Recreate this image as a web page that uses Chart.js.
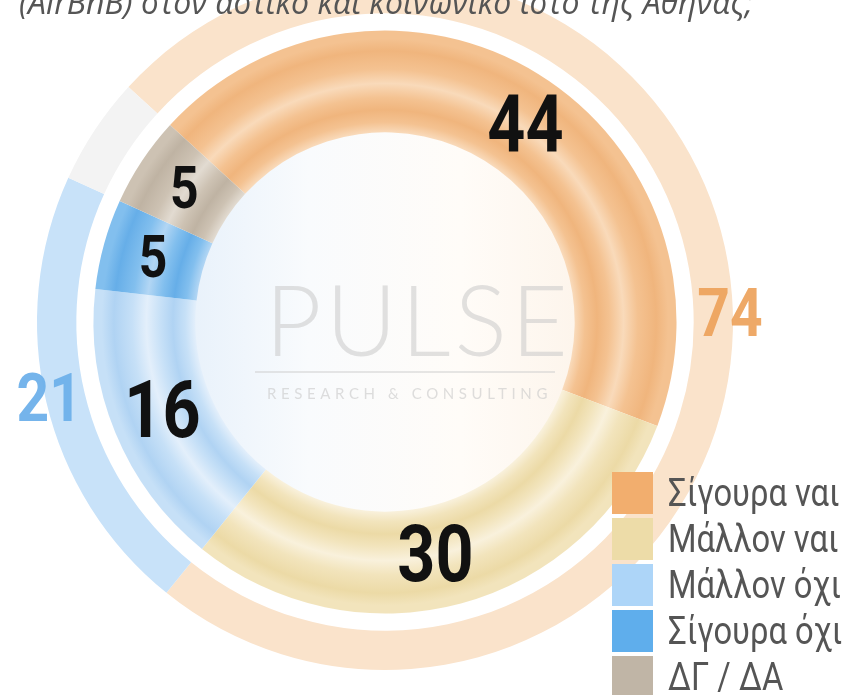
<!DOCTYPE html>
<html>
<head>
<meta charset="utf-8">
<script src="https://cdn.jsdelivr.net/npm/chart.js@4.4.1/dist/chart.umd.min.js"></script>
<style>
  html, body { margin: 0; padding: 0; background: #ffffff; }
  #wrap { position: relative; width: 844px; height: 695px; overflow: hidden; background: #ffffff; }
  #chart { position: absolute; left: 0; top: -30px; }
  #title { position: absolute; left: 19px; top: -14px; font-family: "Open Sans", sans-serif; font-style: italic;
           font-size: 32px; line-height: 31px; color: #555555; white-space: nowrap; }
  #wm { position: absolute; left: 255px; top: 268px; width: 320px; pointer-events: none; }
  #wm .big { font-family: Lato, "Open Sans", sans-serif; font-weight: 300; font-size: 98px; line-height: 100px;
             color: rgba(200,200,200,0.55); letter-spacing: 4px; margin-left: 10px; }
  #wm .rule { position: absolute; left: 0; top: 103px; width: 300px; height: 2px; background: rgba(205,205,205,0.5); }
  #wm .small { position: absolute; left: 12px; top: 116px; font-family: Lato, sans-serif; font-size: 15px;
               letter-spacing: 4.6px; color: rgba(200,200,200,0.6); white-space: nowrap; }
  #legend { position: absolute; left: 612px; top: 472px; }
  #legend .row { position: relative; height: 46px; }
  #legend .sw { position: absolute; left: 0; top: 0; width: 41px; height: 42px; }
  #legend .tx { position: absolute; left: 56px; top: -2px; font-family: Roboto, sans-serif; font-size: 38px;
                line-height: 46px; color: #555555; white-space: nowrap; transform: scaleX(0.86); transform-origin: left center; }
</style>
</head>
<body>
<div id="wrap">
  <canvas id="chart" width="844" height="725"></canvas>
  <div id="wm"><div class="big">PULSE</div><div class="rule"></div><div class="small">RESEARCH &amp; CONSULTING</div></div>
  <div id="title"></div>
  <div id="legend"></div>
</div>
<script>
// ---- data ----
const titleText = '(AirBnB) στον αστικό και κοινωνικό ιστό της Αθήνας;';
const categories = ['Σίγουρα ναι', 'Μάλλον ναι', 'Μάλλον όχι', 'Σίγουρα όχι', 'ΔΓ / ΔΑ'];
const detailValues = [44, 30, 16, 5, 5];
const summaryLabels = ['Ναι', 'Όχι', 'ΔΓ / ΔΑ'];
const summaryValues = [74, 21, 5];

// ---- styles ----
const legendColors = ['#F2AE6E', '#EDDCA8', '#ADD5F8', '#5FAEEC', '#C0B5A6'];
const innerShades = [
  { dark: '#F0B57D', base: '#F4C291', light: '#F9DABA' },
  { dark: '#ECDAA6', base: '#F2E4BC', light: '#F9F1DC' },
  { dark: '#B0D3F3', base: '#C6E0F7', light: '#E3EFFB' },
  { dark: '#66AEE8', base: '#82BFEE', light: '#B2D6F4' },
  { dark: '#BFB3A3', base: '#CDC2B3', light: '#E2DBD1' }
];
const outerColors = ['#FAE3CB', '#C8E2F9', '#F3F3F3'];
const outerLabelColors = ['rgba(236,160,88,0.9)', 'rgba(110,176,234,0.95)', 'rgba(0,0,0,0)'];
const outerLabelAngleNudge = [3.4, 0, 0]; // degrees
const innerLabelAngleNudge = [4, 3, 0, 0, 0]; // degrees

document.getElementById('title').textContent = titleText;
const legendEl = document.getElementById('legend');
categories.forEach((c, i) => {
  const row = document.createElement('div');
  row.className = 'row';
  row.innerHTML = '<div class="sw" style="background:' + legendColors[i] + '"></div><div class="tx"></div>';
  row.querySelector('.tx').textContent = c;
  legendEl.appendChild(row);
});

function ringGradient(ctx, shade) {
  const chart = ctx.chart;
  const meta = chart.getDatasetMeta(ctx.datasetIndex);
  const ctrl = meta.controller;
  const ca = chart.chartArea;
  if (!ca || !ctrl || !ctrl.outerRadius) return shade.base;
  const cx = (ca.left + ca.right) / 2, cy = (ca.top + ca.bottom) / 2;
  const rIn = ctrl.innerRadius, rOut = ctrl.outerRadius;
  const g = chart.ctx.createRadialGradient(cx, cy, rIn, cx, cy, rOut);
  g.addColorStop(0.00, shade.light);
  g.addColorStop(0.10, shade.base);
  g.addColorStop(0.22, shade.dark);
  g.addColorStop(0.34, shade.base);
  g.addColorStop(0.48, shade.light);
  g.addColorStop(0.62, shade.base);
  g.addColorStop(0.80, shade.dark);
  g.addColorStop(0.92, shade.base);
  g.addColorStop(1.00, shade.base);
  return g;
}

const holePlugin = {
  id: 'hole',
  beforeDatasetsDraw(chart) {
    const ctrl = chart.getDatasetMeta(2).controller;
    const ca = chart.chartArea;
    const cx = (ca.left + ca.right) / 2, cy = (ca.top + ca.bottom) / 2;
    const r = ctrl.innerRadius;
    const c = chart.ctx;
    c.save();
    const g = c.createLinearGradient(cx - r, cy, cx + r, cy);
    g.addColorStop(0, '#E9F2FB');
    g.addColorStop(0.3, '#F9FBFD');
    g.addColorStop(0.7, '#FFFCF8');
    g.addColorStop(1, '#FDF5EC');
    c.fillStyle = g;
    c.beginPath();
    c.arc(cx, cy, r + 1, 0, Math.PI * 2);
    c.fill();
    c.restore();
  }
};

const labelPlugin = {
  id: 'labels',
  afterDatasetsDraw(chart) {
    const c = chart.ctx;
    c.save();
    c.textAlign = 'center';
    c.textBaseline = 'middle';
    chart.getDatasetMeta(2).data.forEach((arc, i) => {
      const p = arc.getProps(['x', 'y', 'startAngle', 'endAngle', 'innerRadius', 'outerRadius'], true);
      const mid = (p.startAngle + p.endAngle) / 2 + innerLabelAngleNudge[i] * Math.PI / 180;
      const r = (p.innerRadius + p.outerRadius) / 2;
      const v = detailValues[i];
      const x = p.x + Math.cos(mid) * r, y = p.y + Math.sin(mid) * r;
      c.font = '700 ' + (v >= 10 ? 80 : 60) + 'px Roboto';
      c.fillStyle = '#111111';
      c.save();
      c.translate(x, y + 4);
      c.scale(0.83, 1);
      c.fillText(String(v), 0, 0);
      c.restore();
    });
    chart.getDatasetMeta(0).data.forEach((arc, i) => {
      if (i > 1) return;
      const p = arc.getProps(['x', 'y', 'startAngle', 'endAngle', 'innerRadius', 'outerRadius'], true);
      const mid = (p.startAngle + p.endAngle) / 2 + outerLabelAngleNudge[i] * Math.PI / 180;
      const r = p.outerRadius - 3;
      const x = p.x + Math.cos(mid) * r, y = p.y + Math.sin(mid) * r;
      c.font = '700 67px Roboto';
      c.fillStyle = outerLabelColors[i];
      c.save();
      c.translate(x, y + 3);
      c.scale(0.85, 1);
      c.fillText(String(summaryValues[i]), 0, 0);
      c.restore();
    });
    c.restore();
  }
};

new Chart(document.getElementById('chart'), {
  type: 'doughnut',
  data: {
    labels: categories,
    datasets: [
      { label: 'summary', data: summaryValues, weight: 39, backgroundColor: outerColors, borderWidth: 0 },
      { label: 'spacer', data: [1], weight: 17, backgroundColor: 'rgba(0,0,0,0)', borderWidth: 0 },
      { label: 'detail', data: detailValues, weight: 101,
        backgroundColor: (ctx) => ctx.dataIndex === undefined ? '#ccc' : ringGradient(ctx, innerShades[ctx.dataIndex]),
        borderWidth: 0 }
    ]
  },
  options: {
    responsive: false,
    animation: false,
    events: [],
    rotation: -47.5,
    cutout: '54.5%',
    hoverOffset: 0,
    offset: 0,
    layout: { padding: { left: 0, right: 74, top: 4, bottom: 25 } },
    plugins: { legend: { display: false }, tooltip: { enabled: false } }
  },
  plugins: [holePlugin, labelPlugin]
});
</script>
</body>
</html>
